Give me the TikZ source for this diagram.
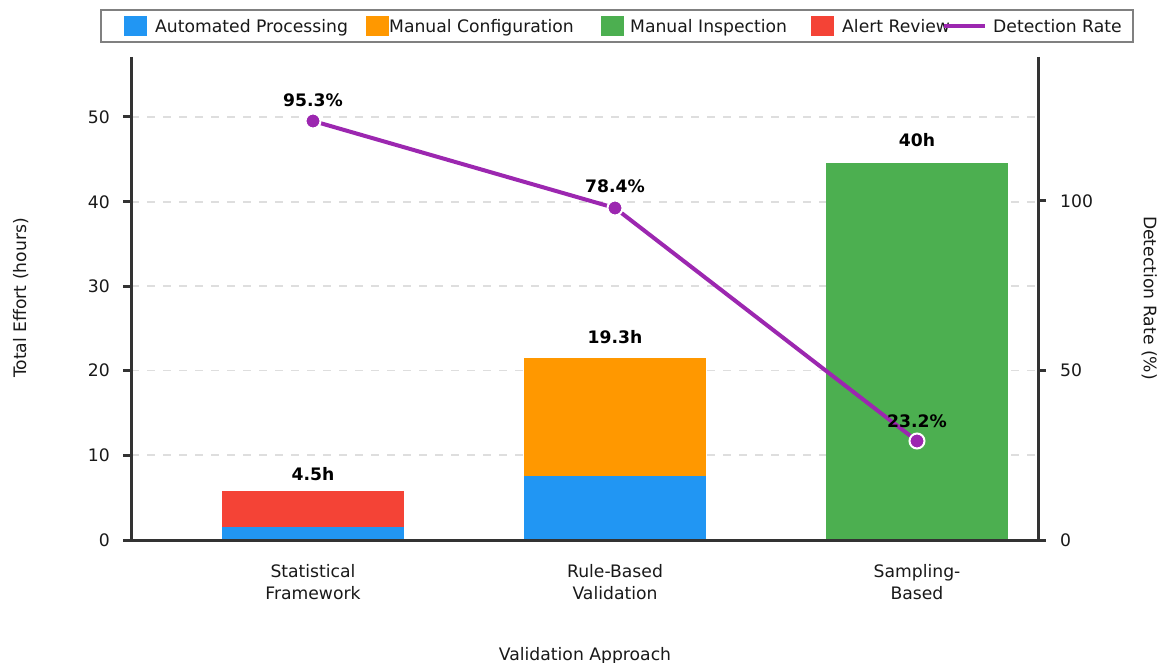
\documentclass[tikz,border=0pt]{standalone}
\usepackage{fontspec}
\setmainfont{DejaVu Sans}
\begin{document}
\begin{tikzpicture}[x=1pt,y=-1pt,
  txt/.style={font=\fontsize{17.2}{22}\selectfont, inner sep=0pt, text=black!90, text height=12.4pt, text depth=0pt},
  val/.style={font=\bfseries\fontsize{17.2}{22}\selectfont, inner sep=0pt, text=black, text height=12.4pt, text depth=0pt},
  gridline/.style={draw=black!13, line width=1.2pt, dash pattern=on 8pt off 8pt},
  axisline/.style={draw=black!80, line width=3pt},
  tick/.style={draw=black!80, line width=3pt},
  barA/.style={fill=autoblue},
  barM/.style={fill=manorange},
  barI/.style={fill=inspgreen},
  barR/.style={fill=alertred},
  rate/.style={draw=ratepurple, line width=4pt},
  dot/.style={circle, fill=ratepurple, draw=white, line width=2pt, minimum size=15pt, inner sep=0pt},
  swatch/.style={minimum width=23pt, minimum height=20pt, inner sep=0pt}
]
\definecolor{autoblue}{HTML}{2196F3}
\definecolor{manorange}{HTML}{FF9800}
\definecolor{inspgreen}{HTML}{4CAF50}
\definecolor{alertred}{HTML}{F44336}
\definecolor{ratepurple}{HTML}{9C27B0}

\useasboundingbox[fill=white] (0,0) rectangle (1162,663);

% horizontal grid
\foreach \gy in {117,202,286,370.5,455}
  \draw[gridline] (131,\gy) -- (1038,\gy);

% stacked bars
\fill[barA] (222,540) rectangle (404,527);
\fill[barR] (222,527) rectangle (404,491);
\fill[barA] (524,540) rectangle (706,476);
\fill[barM] (524,476) rectangle (706,358);
\fill[barI] (826,540) rectangle (1008,163);

% axes
\draw[axisline] (131,57) -- (131,540);
\draw[axisline] (1038,57) -- (1038,540);
\draw[axisline] (123,540) -- (1046,540);
\foreach \gy in {455,370.5,286,202,117}
  \draw[tick] (123,\gy) -- (131,\gy);
\draw[tick] (1038,370.5) -- (1046,370.5);
\draw[tick] (1038,201) -- (1046,201);

% left tick labels
\foreach \gy/\lab in {540/0,455/10,370.5/20,286/30,202/40,117/50}
  \node[txt, anchor=east] (l\lab) at (110,\gy) {\lab};
% right tick labels
\foreach \gy/\lab in {540/0,370.5/50,201/100}
  \node[txt, anchor=west] (r\lab) at (1060,\gy) {\lab};

% axis titles
\node[txt, rotate=90] (ytitle) at (20,298) {Total Effort (hours)};
\node[txt, rotate=-90] (rtitle) at (1150,298) {Detection Rate (\%)};
\node[txt] (xtitle) at (585,654) {Validation Approach};

% category labels
\node[txt, align=center, text height=, text depth=] (c1) at (313,582) {Statistical\\Framework};
\node[txt, align=center, text height=, text depth=] (c2) at (615,582) {Rule-Based\\Validation};
\node[txt, align=center, text height=, text depth=] (c3) at (917,582) {Sampling-\\Based};

% bar totals
\node[val] (t1) at (313,474) {4.5h};
\node[val] (t2) at (615,337) {19.3h};
\node[val] (t3) at (917,140) {40h};

% detection rate line
\coordinate (p1) at (313,121);
\coordinate (p2) at (615,208);
\coordinate (p3) at (917,441);
\draw[rate] (p1) -- (p2) -- (p3);
\node[dot] (m1) at (p1) {};
\node[dot] (m2) at (p2) {};
\node[dot] (m3) at (p3) {};
\node[val] (v1) at (313,100) {95.3\%};
\node[val] (v2) at (615,186) {78.4\%};
\node[val] (v3) at (917,421) {23.2\%};

% legend
\draw[draw=black!50, line width=1.5pt, fill=white] (101,10) rectangle (1133,42);
\node[swatch, fill=autoblue] (s1) at (135.5,26) {};
\node[txt, anchor=west] (n1) at (155,26) {Automated Processing};
\node[swatch, fill=manorange] (s2) at (377,26) {};
\node[txt, anchor=west] (n2) at (389,26) {Manual Configuration};
\node[swatch, fill=inspgreen] (s3) at (612.5,26) {};
\node[txt, anchor=west] (n3) at (630,26) {Manual Inspection};
\node[swatch, fill=alertred] (s4) at (822.5,26) {};
\node[txt, anchor=west] (n4) at (842,26) {Alert Review};
\coordinate (ls) at (944,26);
\coordinate (le) at (985,26);
\draw[rate] (ls) -- (le);
\node[txt, anchor=west] (n5) at (993,26) {Detection Rate};
\end{tikzpicture}
\end{document}
